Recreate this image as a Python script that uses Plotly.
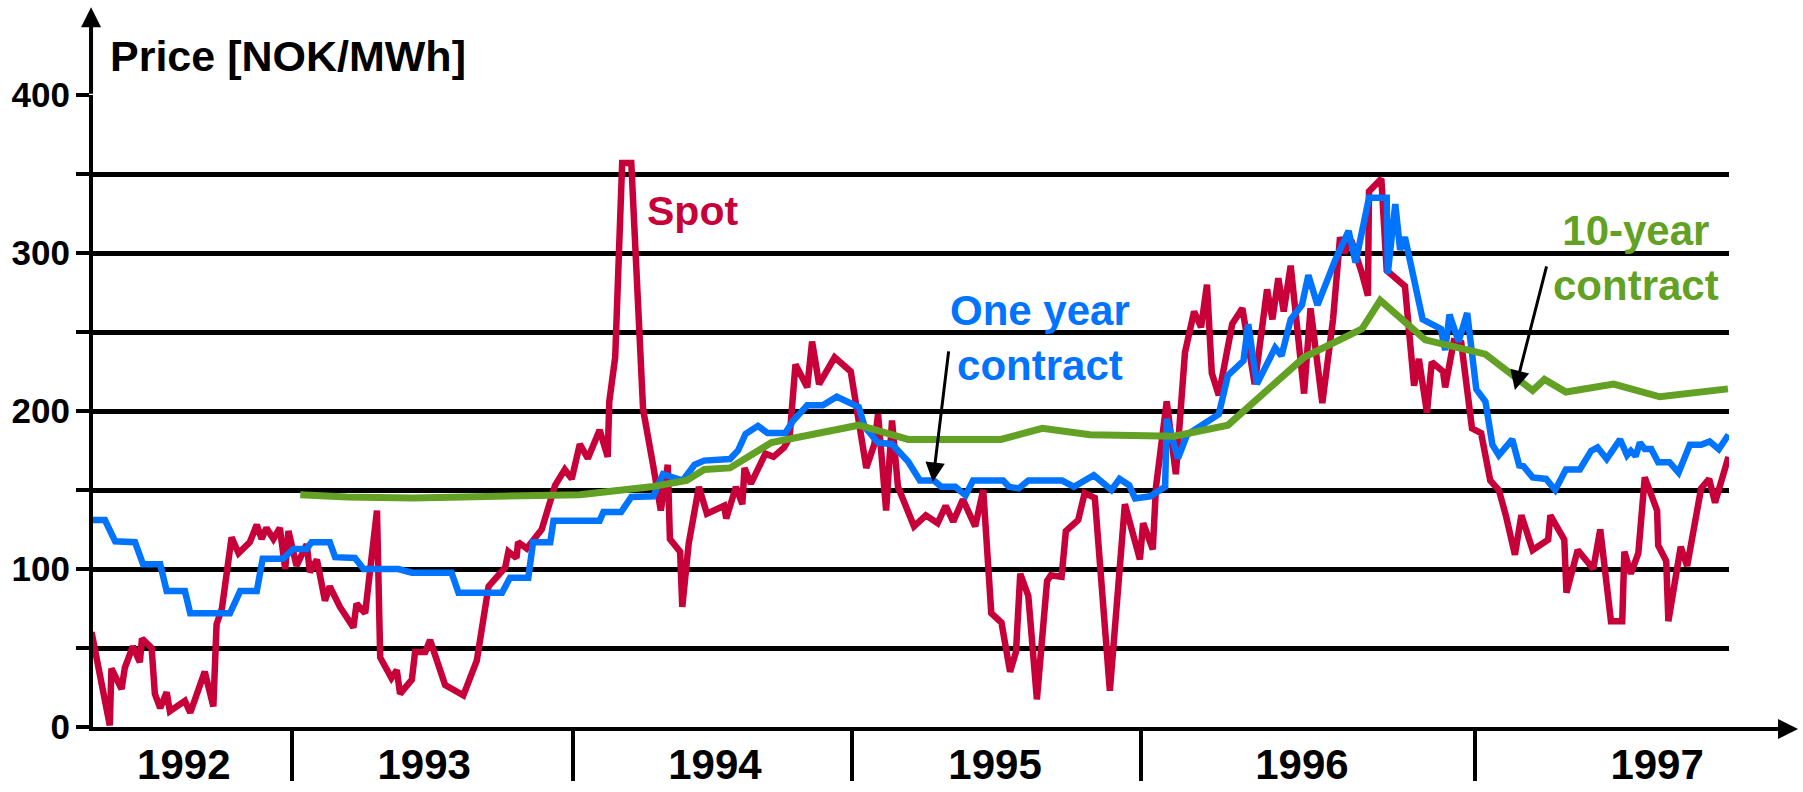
import plotly.graph_objects as go

# x = week index counted from the left edge of the chart (spring 1992)
# y = price in NOK/MWh

spot_week = [
    0.1, 3.5, 3.8, 5.7, 6.3, 7.8, 9.1, 9.5, 11.3, 11.9,
    12.9, 14.1, 14.7, 17.5, 18.5, 21.2, 22.8, 23.4, 24.4, 26.2,
    27.5, 29.6, 30.9, 31.8, 32.7, 34.0, 35.2, 36.2, 36.8, 38.3,
    40.2, 40.8, 42.1, 43.6, 44.5, 46.4, 48.9, 49.5, 51.1, 53.3,
    53.9, 56.0, 57.0, 57.6, 59.8, 60.4, 62.3, 63.2, 66.0, 69.4,
    71.9, 74.1, 77.2, 77.8, 79.3, 79.6, 81.2, 84.0, 86.5, 88.3,
    89.6, 91.1, 92.6, 94.8, 96.3, 96.6, 97.7, 99.0, 100.7, 102.9,
    104.8, 106.2, 107.5, 107.9, 109.8, 110.2, 111.4, 113.3, 114.8, 118.0,
    118.4, 120.2, 121.4, 121.8, 123.0, 125.7, 127.2, 129.2, 130.2, 131.3,
    133.5, 134.4, 135.7, 138.6, 141.6, 144.5, 146.0, 146.7, 148.2, 149.3,
    150.4, 153.4, 155.6, 157.8, 159.3, 160.7, 162.5, 164.8, 166.3, 167.8,
    169.7, 171.3, 172.4, 173.2, 174.7, 176.3, 178.2, 178.9, 180.9, 181.7,
    184.0, 185.2, 187.1, 189.9, 192.7, 195.5, 196.1, 197.9, 198.5, 200.5,
    202.2, 203.9, 205.6, 206.9, 208.0, 208.9, 210.2, 212.7, 214.6, 216.9,
    219.2, 220.2, 221.3, 222.3, 223.6, 226.1, 227.3, 229.5, 231.5, 232.8,
    233.6, 234.9, 236.9, 238.0, 238.2, 240.5, 241.5, 243.2, 244.9, 246.6,
    247.5, 249.0, 249.9, 252.0, 252.4, 254.0, 255.4, 257.4, 259.1, 260.8,
    262.4, 263.7, 265.4, 266.6, 268.7, 271.6, 272.0, 274.6, 275.0, 277.1,
    280.0, 281.3, 283.3, 285.4, 285.8, 287.0, 288.4, 289.6, 291.9, 292.1,
    293.6, 294.0, 296.3, 297.5, 300.1, 301.6, 302.7, 305.2,
]
spot_price = [
    60, 1, 37, 24, 37.5, 51, 41, 56, 50, 21,
    12, 22, 10, 16.5, 9, 35, 13, 65, 75, 120,
    110, 117, 128, 119, 126, 119, 126, 100, 124, 102,
    115.6, 98, 106, 80, 89, 76, 63, 78, 72, 137,
    44, 31, 36, 21, 30, 47.5, 47.5, 55, 26.5, 20,
    42, 89, 101, 111, 107, 117, 113, 125, 153, 163,
    157, 179, 170, 188, 171, 206, 234, 357, 357, 201,
    165, 137, 166, 119, 111, 76, 116, 152, 135, 140,
    132, 152, 141, 164, 154, 173, 171, 177, 183, 229.5,
    215, 244, 217, 234, 225, 164, 179, 198, 137, 194,
    152, 127, 134, 129, 140, 130, 144, 127, 150, 72,
    66, 35, 47.5, 97, 83, 17.5, 92.5, 96, 95, 124,
    131, 148, 145, 23, 141, 106, 129, 112.5, 152, 206,
    160, 237, 263, 253, 280, 224, 210, 255, 265, 217,
    277, 258, 284, 263, 292, 211, 265, 205, 258, 310,
    300, 308, 287, 273, 339, 347, 289, 284, 279, 216,
    233, 199, 231, 225, 215, 244, 243, 189, 186, 156,
    150, 134, 109, 134, 112, 118.6, 134, 118.6, 85, 112,
    100, 125, 67, 67, 111, 97, 110, 158, 137, 115,
    105, 67, 114, 102, 151, 157, 142, 171,
]

one_year_week = [
    0.1, 2.6, 4.5, 8.2, 9.7, 12.9, 14.1, 17.5, 18.5, 25.9,
    27.8, 30.9, 32.0, 35.8, 37.7, 40.2, 41.1, 44.5, 45.5, 49.2,
    50.8, 57.3, 59.8, 67.2, 68.5, 76.6, 78.1, 81.5, 82.4, 85.6,
    86.2, 94.8, 95.5, 98.8, 100.7, 104.8, 106.6, 110.3, 112.5, 114.3,
    119.1, 120.6, 122.0, 124.3, 126.1, 129.4, 130.9, 133.5, 136.4, 139.0,
    143.1, 144.2, 146.7, 149.3, 152.3, 154.5, 157.1, 158.5, 161.1, 163.0,
    164.4, 170.0, 171.1, 172.9, 174.7, 181.0, 183.2, 186.9, 190.2, 191.7,
    193.5, 194.6, 197.4, 198.9, 200.2, 200.5, 202.6, 204.3, 210.2, 211.9,
    214.8, 215.7, 217.3, 220.7, 221.9, 223.6, 225.7, 226.9, 228.6, 231.9,
    234.4, 235.7, 238.2, 241.5, 241.7, 243.1, 244.0, 244.9, 248.2, 251.6,
    252.4, 253.2, 254.9, 256.5, 258.2, 259.9, 261.2, 262.4, 264.9, 266.2,
    267.0, 268.7, 271.2, 272.9, 274.9, 277.5, 279.6, 280.8, 282.5, 285.0,
    286.3, 287.0, 287.9, 288.7, 289.6, 290.8, 292.1, 294.2, 295.9, 298.0,
    300.1, 301.7, 303.4, 305.2,
]
one_year_price = [
    131, 131, 117.5, 117, 103, 103, 86, 86, 72, 72,
    86, 86, 106.5, 106.5, 112.7, 112.7, 117, 117, 107.5, 107,
    100, 100, 97.7, 97.7, 85, 85, 94.5, 94.5, 117, 117,
    130.5, 130.5, 136, 136, 145.6, 146, 160, 156, 166, 168.6,
    169.6, 175, 185.5, 190.6, 186, 186, 194, 203.6, 203.6, 209,
    202.5, 190, 180, 179, 168, 156, 156, 152, 152, 146.6,
    156, 156, 152, 151, 156, 156, 152, 159.4, 150, 157,
    153, 144.7, 146, 148.8, 152, 195, 170, 185, 198, 222.5,
    231.8, 255, 217, 240, 235, 258, 267, 286, 267, 295.5,
    314, 294, 335, 335, 287, 331, 302, 310, 258, 252,
    238.5, 261, 244, 262, 213.7, 206, 178.6, 172, 182, 165.5,
    165, 158, 157, 150, 163, 163, 174.8, 177, 169.6, 182,
    172, 174.8, 171.4, 180, 176, 176, 167.6, 167.6, 161, 178.6,
    178.6, 180.7, 175.8, 185,
]

ten_year_week = [
    39.0, 47.7, 60.0, 75.6, 91.1, 104.4, 111.0, 114.3, 119.1, 126.8,
    134.6, 143.1, 152.3, 169.6, 177.3, 186.2, 201.9, 211.9, 226.1, 236.9,
    240.3, 248.7, 259.9, 268.7, 270.9, 274.9, 283.8, 292.4, 305.1,
]
ten_year_price = [
    147, 145.5, 145, 145.5, 147, 152, 156, 163, 164, 180,
    185, 191, 182, 182, 189, 185, 184, 191, 234, 252,
    270, 245, 236, 213, 220, 212, 217, 209, 214,
]

year_start_week = [37.5, 89.8, 141.8, 195.7, 258.0]
year_label_week = [17.3, 62.1, 116.3, 168.5, 225.7, 291.9]
year_labels = ["1992", "1993", "1994", "1995", "1996", "1997"]

price_ticks = [0, 50, 100, 150, 200, 250, 300, 350, 400]
price_tick_text = ["0", "", "100", "", "200", "", "300", "", "400"]

RED = "#C8003A"
BLUE = "#0073FF"
GREEN = "#62A124"
FONT = "Liberation Sans, Arial, Helvetica, sans-serif"


def bold(size, color="black"):
    return dict(family=FONT, size=size, color=color, weight="bold")


fig = go.Figure()
fig.add_trace(go.Scatter(x=spot_week, y=spot_price, mode="lines",
                         line=dict(color=RED, width=6.5), name="Spot"))
fig.add_trace(go.Scatter(x=one_year_week, y=one_year_price, mode="lines",
                         line=dict(color=BLUE, width=6.5), name="One year contract"))
fig.add_trace(go.Scatter(x=ten_year_week, y=ten_year_price, mode="lines",
                         line=dict(color=GREEN, width=7), name="10-year contract"))

annotations = [
    dict(text="Price [NOK/MWh]", xref="paper", yref="paper", x=0.0092, y=1.0620,
         xanchor="left", yanchor="middle", showarrow=False, font=bold(43)),
    dict(text="Spot", x=103.3, y=326.6, xanchor="left", yanchor="middle",
         showarrow=False, font=bold(41, RED)),
    dict(text="One year<br>contract", x=176.9, y=246.5, xanchor="center",
         yanchor="middle", showarrow=False, font=bold(42, BLUE)),
    dict(text="10-year<br>contract", x=288.0, y=296.8, xanchor="center",
         yanchor="middle", showarrow=False, font=bold(42, GREEN)),
    # pointer arrows to the contract lines
    dict(text="", x=156.9, y=155.1, ax=16, ay=-132, showarrow=True,
         arrowhead=2, arrowsize=1.3, arrowwidth=3, arrowcolor="black"),
    dict(text="", x=265.4, y=213.3, ax=32, ay=-125, showarrow=True,
         arrowhead=2, arrowsize=1.3, arrowwidth=3, arrowcolor="black"),
    # axis arrows
    dict(text="", xref="paper", yref="paper", x=-0.0012, y=1.139, ax=0, ay=88,
         showarrow=True, arrowhead=2, arrowsize=1, arrowwidth=4, arrowcolor="black"),
    dict(text="", xref="paper", yref="paper", x=1.0422, y=-0.0032, ax=-98, ay=0,
         showarrow=True, arrowhead=2, arrowsize=1, arrowwidth=4, arrowcolor="black"),
]

fig.update_layout(
    width=1803,
    height=792,
    margin=dict(l=93, r=74, t=95, b=65, pad=0),
    plot_bgcolor="white",
    paper_bgcolor="white",
    showlegend=False,
    annotations=annotations,
    xaxis=dict(
        range=[0.37, 305.3], automargin=False,
        showline=True, linewidth=4, linecolor="black",
        showgrid=False, zeroline=False,
        tickmode="array", tickvals=year_label_week, ticktext=year_labels,
        ticks="outside", ticklen=20, tickcolor="rgba(0,0,0,0)",
        tickfont=bold(42), ticklabelstandoff=-22,
        minor=dict(tickmode="array", tickvals=year_start_week, ticks="outside",
                   ticklen=50, tickwidth=4, tickcolor="black", showgrid=False),
    ),
    yaxis=dict(
        range=[0, 400], automargin=False,
        tickmode="array", tickvals=price_ticks, ticktext=price_tick_text,
        ticks="outside", ticklen=13, tickwidth=4, tickcolor="black",
        showgrid=True, gridcolor="black", gridwidth=4.5,
        showline=True, linewidth=4, linecolor="black", zeroline=False,
        tickfont=bold(35), ticklabelstandoff=-1,
    ),
)

fig.write_html("out.html", config={"displayModeBar": False},
               post_script="document.body.style.margin='0px';")
